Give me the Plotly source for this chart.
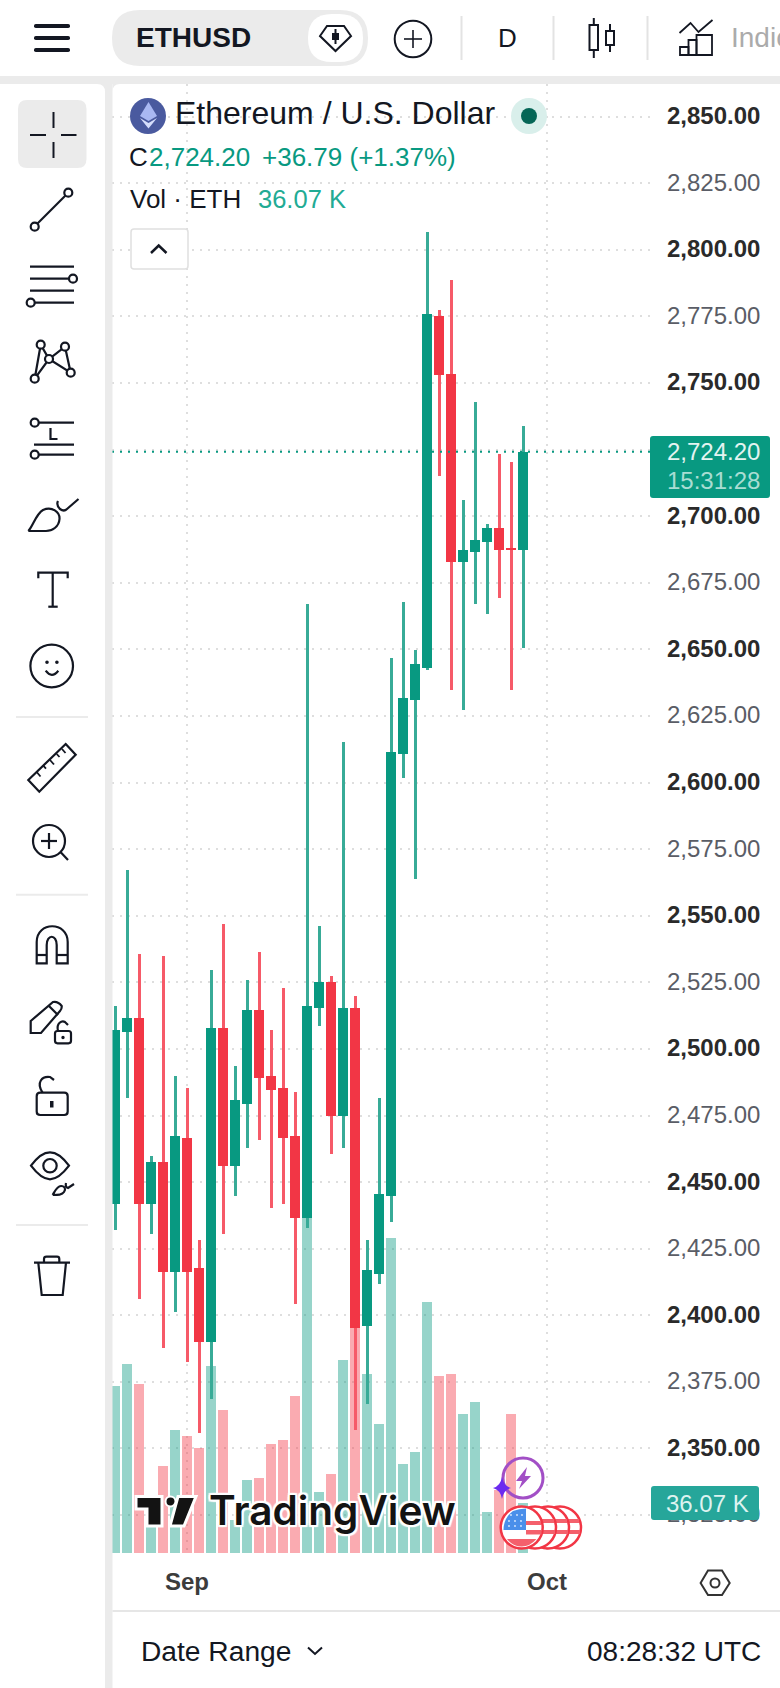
import re
import pandas as pd
import plotly.graph_objects as go

W, H = 780, 1688
# ---------------- data ----------------
start_date = "2024-08-26"
direction = list("GGRGRGRRGRGGRRRRGGRGRGGGGGGRRGGGRRG")
high = [2516.1,2567.2,2535.6,2459.8,2534.9,2489.8,2485.3,2428.3,2529.6,2546.9,2493.6,2525.9,2536.4,2507.1,2522.9,2483.8,2667.0,2546.1,2527.4,2615.2,2519.9,2428.3,2481.6,2646.8,2667.8,2649.8,2806.7,2777.4,2788.7,2706.1,2742.9,2697.1,2723.4,2720.4,2733.9]
body_top = [2507.1,2511.6,2511.6,2457.5,2457.5,2467.3,2466.6,2417.7,2507.9,2507.9,2480.8,2514.6,2514.6,2489.8,2485.3,2467.3,2516.1,2525.1,2525.1,2515.4,2515.4,2417.0,2445.5,2611.5,2631.8,2644.5,2775.9,2775.2,2753.4,2687.3,2691.1,2695.6,2695.6,2688.1,2724.2]
body_bot = [2441.8,2506.4,2441.8,2441.8,2416.2,2416.2,2416.2,2390.0,2390.0,2456.0,2456.0,2479.3,2489.1,2484.6,2466.6,2436.5,2436.5,2515.4,2474.8,2474.8,2395.2,2396.0,2415.5,2444.8,2610.7,2631.0,2643.0,2753.0,2682.8,2682.8,2686.6,2690.3,2687.3,2687.4,2687.4]
low = [2432.0,2481.6,2406.1,2430.5,2387.7,2401.2,2382.4,2355.8,2368.6,2430.5,2444.8,2462.8,2465.8,2440.3,2441.8,2404.2,2432.8,2508.6,2460.5,2462.8,2356.9,2366.7,2411.7,2435.0,2601.7,2563.8,2642.3,2715.1,2634.8,2627.2,2667.0,2663.3,2669.3,2634.8,2650.5]
volume_k = [120.5,136.4,121.9,20,62.8,88.7,84.4,75.8,134.9,103.2,24,52.7,54.1,78.6,81.5,113.3,241.7,44,57,139.2,169.6,129.1,93.1,227.3,64.2,72.9,181.1,127.7,129.1,100.3,108.9,29.6,45.5,100.3,36.07]
last_close = 2724.20
price_ticks = list(range(2325, 2875, 25))
x_tick_dates = ["2024-09-01", "2024-10-01"]
x_tick_text = ["<b>Sep</b>", "<b>Oct</b>"]

GREEN, RED = "#089981", "#F23645"
WICK_G, WICK_R = "#38AB97", "#F65A68"
VOL_G, VOL_R = "rgba(8,153,129,0.42)", "rgba(242,54,69,0.42)"
FONT = "Liberation Sans"
dates = pd.date_range(start_date, periods=len(high), freq="D")
DAY = 86400000.0
PX_PER_DAY = 12.0
P_LEFT, P_RIGHT, P_TOP, P_BOT = 112, 650, 84, 1553

fig = go.Figure()
fig.add_bar(x=dates, y=volume_k, width=DAY * 9.6 / PX_PER_DAY, yaxis="y",
            marker=dict(color=[VOL_G if d == "G" else VOL_R for d in direction], line_width=0))
fig.add_bar(x=dates, base=low, y=[h - l for h, l in zip(high, low)], width=DAY * 3 / PX_PER_DAY, yaxis="y2",
            marker=dict(color=[WICK_G if d == "G" else WICK_R for d in direction], line_width=0))
fig.add_bar(x=dates, base=body_bot, y=[t - b for t, b in zip(body_top, body_bot)], width=DAY * 10.4 / PX_PER_DAY, yaxis="y2",
            marker=dict(color=[GREEN if d == "G" else RED for d in direction], line_width=0))
x0 = dates[0] + pd.Timedelta(hours=-6)
x1 = dates[0] + pd.Timedelta(days=(P_RIGHT - 115) / PX_PER_DAY)
fig.add_scatter(x=[x0, x1], y=[last_close, last_close], mode="lines", yaxis="y2",
                line=dict(color=GREEN, width=2, dash="2px,6px"))

# ---------------- chrome helpers (pixel -> paper) ----------------
shapes, annos = [], []
def fx(x): return x / W
def fy(y): return 1 - y / H
def path(d, color="#131722", lw=2.0, fill=None):
    d2 = re.sub(r"(-?\d+\.?\d*),(-?\d+\.?\d*)", lambda m: f"{fx(float(m[1])):.5f},{fy(float(m[2])):.5f}", d)
    shapes.append(dict(type="path", path=d2, xref="paper", yref="paper",
                       line=dict(color=color, width=lw), fillcolor=fill or "rgba(0,0,0,0)"))
def fillp(d, fill):
    d2 = re.sub(r"(-?\d+\.?\d*),(-?\d+\.?\d*)", lambda m: f"{fx(float(m[1])):.5f},{fy(float(m[2])):.5f}", d)
    shapes.append(dict(type="path", path=d2, xref="paper", yref="paper", line=dict(width=0), fillcolor=fill))
def line(x1, y1, x2, y2, color="#131722", lw=2.0):
    path(f"M{x1},{y1} L{x2},{y2}", color, lw)
def circle(cx, cy, r, color="#131722", lw=2.0, fill=None):
    shapes.append(dict(type="circle", xref="paper", yref="paper", x0=fx(cx - r), x1=fx(cx + r), y0=fy(cy + r), y1=fy(cy - r),
                       line=dict(color=color, width=lw), fillcolor=fill or "rgba(0,0,0,0)"))
def dot(cx, cy, r, fill):
    shapes.append(dict(type="circle", xref="paper", yref="paper", x0=fx(cx - r), x1=fx(cx + r), y0=fy(cy + r), y1=fy(cy - r),
                       line=dict(width=0), fillcolor=fill))
def rrect(x1, y1, x2, y2, r, fill=None, color=None, lw=0):
    d = (f"M{x1+r},{y1} L{x2-r},{y1} Q{x2},{y1} {x2},{y1+r} L{x2},{y2-r} Q{x2},{y2} {x2-r},{y2} "
         f"L{x1+r},{y2} Q{x1},{y2} {x1},{y2-r} L{x1},{y1+r} Q{x1},{y1} {x1+r},{y1} Z")
    if color: path(d, color, lw, fill)
    else: fillp(d, fill)
def text(x, y, s, size, color="#131722", anchor="left", family=FONT, **font_kw):
    annos.append(dict(x=fx(x), y=fy(y), xref="paper", yref="paper", text=s, showarrow=False, xanchor=anchor, yanchor="middle",
                      borderpad=0, font=dict(family=family, size=size, color=color, **font_kw)))

GRAY = "#EBEBEB"
# frame
fillp("M0,76 L780,76 L780,84 L0,84 Z", GRAY)
fillp("M105,84 L112.5,84 L112.5,1688 L105,1688 Z", GRAY)
fillp("M97,84 L105,84 L105,92 Q105,84 97,84 Z", GRAY)
fillp("M112.5,84 L120,84 Q112.5,84 112.5,92 Z", GRAY)
# top bar
for y in (26, 38, 50):
    rrect(34, y - 2, 70, y + 2, 1.8, fill="#131722")
rrect(112, 10, 368, 66, 28, fill=GRAY)
text(135, 38, "<b>ETHUSD</b>", 28)
rrect(308, 14, 363, 62, 24, fill="#FFFFFF")
path("M327,26 L344,26 L351,36 L335.5,51 L320,36 Z", lw=2)
line(335.5, 29, 335.5, 44, lw=2)
fillp("M332,33 L339,33 L339,40 L332,40 Z", "#131722")
circle(413, 39, 18.3, lw=2)
line(404, 39, 422, 39, lw=1.6); line(413, 30, 413, 48, lw=1.6)
for x in (461.5, 553.5, 647.5):
    line(x, 16, x, 60, color="#E3E3E3", lw=2)
text(507.5, 38, "D", 26, anchor="center")
path("M589.5,25 L598,25 L598,50 L589.5,50 Z", lw=2); line(593.8, 18, 593.8, 25, lw=2); line(593.8, 50, 593.8, 58, lw=2)
path("M606,31 L614,31 L614,45 L606,45 Z", lw=2); line(610, 24, 610, 31, lw=2); line(610, 45, 610, 52, lw=2)
path("M679.5,33 L690.5,23 L698.5,32 L712.5,20", lw=1.8)
path("M680,47 L688.5,47 L688.5,55 L680,55 Z", lw=1.8)
path("M688.5,40 L696.5,40 L696.5,55 L688.5,55 Z", lw=1.8)
path("M696.5,35 L712,35 L712,55 L696.5,55 Z", lw=1.8)
text(730, 38, "Indic", 28, color="#ABABAB")
# left toolbar
rrect(18, 100, 86.5, 168, 9, fill=GRAY)
line(53.5, 112, 53.5, 128); line(53.5, 142, 53.5, 158); line(30, 135, 46, 135); line(61, 135, 76.5, 135)
I = 2.2
line(37, 224, 66, 195, lw=I); circle(68.3, 192.7, 4, lw=I, fill="#fff"); circle(34.7, 226.7, 4, lw=I, fill="#fff")
line(30, 266.7, 74, 266.7, lw=I); line(30, 278.7, 69, 278.7, lw=I); circle(73, 278.7, 4, lw=I, fill="#fff")
line(30, 290.7, 74, 290.7, lw=I); line(35, 302.7, 74, 302.7, lw=I); circle(30.7, 302.7, 4, lw=I, fill="#fff")
path("M34.7,378.7 L40.7,344.7 L49,359 L65,346.7 L70.7,372.7 L49,359 L34.7,378.7", lw=I)
for cx, cy in [(40.7, 344.7), (65, 346.7), (49, 359), (70.7, 372.7), (34.7, 378.7)]:
    circle(cx, cy, 4, lw=I, fill="#fff")
line(38, 422.7, 74, 422.7, lw=I); circle(34.7, 422.7, 4, lw=I, fill="#fff")
path("M50.5,428 L50.5,439 L57.5,439", lw=I); line(34, 444.7, 74, 444.7, lw=I)
line(38, 454.7, 74, 454.7, lw=I); circle(34.7, 454.7, 4, lw=I, fill="#fff")
path("M28.3,531 C33,526 36,514 43,510 C52,506 60,512 59.5,519 C59,527 52,531 46,531 L28.3,531", lw=I)
path("M58,501 Q56,505 60,509 Q64,512 67,509 L78.5,499", lw=I)
path("M38.3,578.3 L38.3,572.7 L67.7,572.7 L67.7,578.3", lw=I); line(52.7, 572.7, 52.7, 606.7, lw=I); line(48.3, 606.7, 57.7, 606.7, lw=I)
circle(51.7, 666, 21.3, lw=I); dot(47, 662.3, 1.8, "#131722"); dot(56.9, 662.3, 1.8, "#131722")
path("M45.7,670.7 Q51.7,679 58.3,670.7", lw=I)
line(16, 717, 88, 717, color=GRAY, lw=2)
path("M65.7,744 L75.7,754.7 L39.3,791.7 L28.3,780 Z", lw=I)
for a, b, c, d in [(36.7, 772, 40.5, 776.5), (43.3, 765.7, 46, 768.7), (50, 760, 54, 764.5), (56.7, 754, 59.5, 757), (62, 749, 65.5, 753)]:
    line(a, b, c, d, lw=1.8)
circle(49, 841, 16, lw=I); line(41, 841, 57, 841, lw=I); line(49, 833, 49, 849, lw=I); line(60.7, 852.3, 68, 860, lw=I)
line(16, 894.7, 88, 894.7, color=GRAY, lw=2)
path("M36.7,963.3 L36.7,942 C36.7,921 67.7,921 67.7,942 L67.7,963.3 L56.7,963.3 L56.7,945 C56.7,934 46.7,934 46.7,945 L46.7,963.3 Z", lw=I)
line(36.7, 955, 46.7, 955, lw=I); line(56.7, 955, 67.7, 955, lw=I)
path("M30.7,1021 L53,1002 Q58,1001 61.7,1006 Q62,1009 60,1011 L41,1033 L30.7,1033 Z", lw=I)
line(49, 1006, 58, 1015, lw=I)
rrect(55, 1031, 71, 1043.3, 2.5, fill="#fff", color="#131722", lw=I)
path("M58,1031 C56,1023 62,1020 65,1022 L68,1025", lw=I); dot(63, 1037.5, 1.7, "#131722")
rrect(36.7, 1092.7, 67.7, 1115, 3.5, color="#131722", lw=I)
path("M42.5,1092.7 C36,1082 42,1076 50,1077 L54,1080", lw=I)
fillp("M50,1101 L53.5,1101 L53.5,1107.5 L50,1107.5 Z", "#131722")
path("M31,1165.7 C38,1156 45,1152.3 50,1152.3 C55,1152.3 62,1156 69,1165.7 C62,1175 55,1179.3 50,1179.3 C45,1179.3 38,1175 31,1165.7 Z", lw=I)
circle(50, 1165.7, 6.7, lw=I)
path("M52.7,1195 C55,1191 57,1186 61,1186 C65,1186 66,1189 64,1192 C62,1195 58,1195 52.7,1195", lw=I)
path("M66,1183 Q65,1187 68,1188 L74,1184", lw=I)
line(16, 1225, 88, 1225, color=GRAY, lw=2)
line(34, 1262.7, 70, 1262.7, lw=I)
path("M44,1262.7 L44,1259 Q44,1256.7 46.5,1256.7 L57,1256.7 Q59.3,1256.7 59.3,1259 L59.3,1262.7", lw=I)
path("M38.3,1262.7 L41.7,1295 L62.7,1295 L66,1262.7", lw=I)

# legend
dot(148, 116, 18, "#4A5A9F")
fillp("M148.5,102 L157,116 L148.5,121 L140,116 Z", "#A9B8F2")
fillp("M140,118 L148.5,123 L157,118 L148.5,128.5 Z", "#D5DDFB")
text(174, 113, "Ethereum / U.S. Dollar", 32)
dot(529, 116, 18, "#D9EFEB"); dot(529, 116, 8, "#056656")
text(128, 157, "C", 26)
text(148, 157, "2,724.20", 26, color=GREEN)
text(261, 157, "+36.79 (+1.37%)", 26, color=GREEN)
text(128.5, 199, "Vol · ETH", 26)
text(257, 199, "36.07 K", 25.5, color="#22AB94")
rrect(131, 229, 188, 269, 3, fill="#FFFFFF", color="#E0E0E0", lw=1.5)
path("M151,253 L158.7,245.5 L166.5,253", lw=2.5)
# price tags
rrect(650, 436, 770, 498, 3, fill=GREEN)
text(713, 452, "2,724.20", 24, color="#E3F4F1", anchor="center")
text(713, 480, "15:31:28", 24, color="#A8DDD3", anchor="center")
rrect(651, 1486, 759, 1520, 3, fill="#26A69A")
text(707, 1503, "36.07 K", 24, color="#DDF3F0", anchor="center")

# watermark
WHITE = "#FFFFFF"
path("M136,1496.5 L162,1496.5 L162,1526 L147,1526 L147,1509 L136,1509 Z", color=WHITE, lw=3, fill="#131313")
circle(170.5, 1501.5, 5, color=WHITE, lw=2, fill="#131313")
path("M178,1496.5 L196,1496.5 L184,1526 L170,1526 Z", color=WHITE, lw=3, fill="#131313")
halo = ",".join(f"{a}px {b}px 1px #fff" for a, b in [(-2, 0), (2, 0), (0, -2), (0, 2), (-2, -2), (2, 2), (-2, 2), (2, -2)])
text(208, 1510, "TradingView", 40.5, color="#131313", family="Inter", weight=600, shadow=halo)
# badges
circle(523, 1478, 20, color="#A24FC6", lw=3, fill="rgba(255,255,255,0)")
fillp("M527,1467 L516,1481 L522,1481 L519,1489 L531,1476 L525,1476 Z", "#A24FC6")
fillp("M502,1477 Q503.5,1486 511,1488 Q503.5,1490 502,1499 Q500.5,1490 493,1488 Q500.5,1486 502,1477 Z", "#6C2BF0")
for cx in (560, 548, 535):
    circle(cx, 1527.5, 21, color=RED, lw=2.5, fill=WHITE)
    fillp(f"M{cx+2},1519 L{cx+19},1519 L{cx+19},1523 L{cx+2},1523 Z", "#F4606C")
    fillp(f"M{cx+4},1530 L{cx+20},1530 L{cx+20},1534 L{cx+4},1534 Z", "#F4606C")
circle(521.7, 1527.5, 21, color=RED, lw=2.5, fill=WHITE)
fillp("M513,1511 Q519,1508.5 526,1508.5 L526,1530 L503.5,1530 Q503.5,1518 513,1511 Z", "#4A8FEA")
for dx, dy in [(511, 1515), (517, 1515), (522, 1515), (509, 1521), (515, 1521), (521, 1521), (509, 1526), (515, 1526), (521, 1526)]:
    dot(dx, dy, 0.9, "#DCEBFF")
fillp("M526,1521 L541,1521 L541,1525 L526,1525 Z", "#F4606C")
fillp("M526,1530 L541.5,1530 L541.5,1534.5 L526,1534.5 Z", "#F4606C")
fillp("M507,1539 L536.5,1539 Q530,1546.5 521.7,1546.5 Q513,1546.5 507,1539 Z", "#F4606C")
# bottom
path("M700.6,1583 L708,1570.5 L722,1570.5 L729.7,1583 L722,1595 L708,1595 Z", color="#333", lw=2)
circle(715, 1583, 4.5, color="#333", lw=2)
line(112.5, 1611, 780, 1611, color="#E6E6E6", lw=2)
text(139.5, 1651, "Date Range", 28.2)
path("M308,1647.5 L315,1654 L322,1647.5", lw=2)
text(762, 1651, "08:28:32 UTC", 28, anchor="right")

tick_text = [f"<b>{p:,.2f}</b>" if p % 50 == 0 else f'<span style="color:#5A5D66">{p:,.2f}</span>' for p in price_ticks]
GRID = "#DEDEDE"
fig.update_layout(
    width=W, height=H, margin=dict(l=0, r=0, t=0, b=0), autosize=False,
    paper_bgcolor="#FFFFFF", plot_bgcolor="rgba(0,0,0,0)", barmode="overlay", bargap=0, showlegend=False,
    hovermode=False, font=dict(family=FONT),
    xaxis=dict(domain=[P_LEFT / W, P_RIGHT / W], type="date", range=[x0, x1], tickvals=x_tick_dates, ticktext=x_tick_text,
               tickfont=dict(size=24, color="#3C3C3C", family=FONT), ticks="", ticklabelstandoff=12, showline=False, zeroline=False,
               showgrid=True, gridcolor=GRID, griddash="2px,6px", gridwidth=2, anchor="y"),
    yaxis=dict(domain=[1 - P_BOT / H, 1 - P_TOP / H], range=[0, 1059.9], visible=False, showgrid=False),
    yaxis2=dict(overlaying="y", side="right", anchor="x", range=[2310.75, 2862.28], tickvals=price_ticks, ticktext=tick_text,
                tickfont=dict(size=24, color="#2A2A2A", family=FONT), ticks="", ticklabelstandoff=16, ticklabelshift=-1, showline=False, zeroline=False,
                showgrid=True, gridcolor=GRID, griddash="2px,6px", gridwidth=2),
    shapes=shapes, annotations=annos,
)
fig.write_html("out.html", config=dict(displayModeBar=False),
               post_script="document.body.style.margin='0';document.body.style.overflow='hidden';")
